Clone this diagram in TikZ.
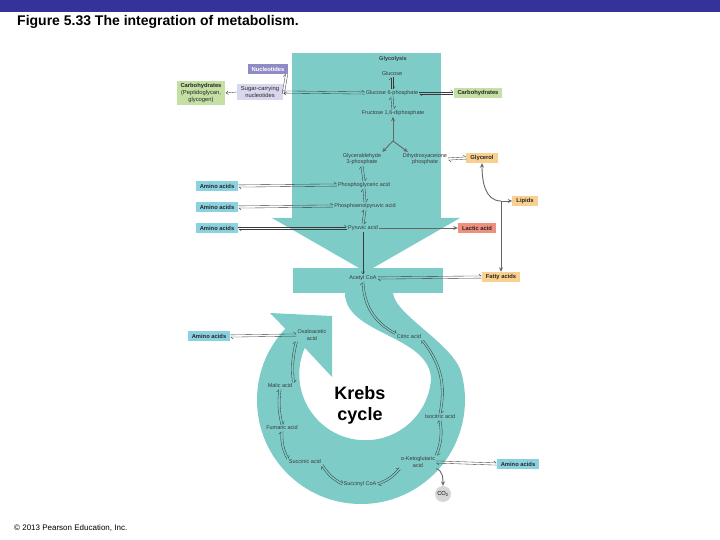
\documentclass[tikz,border=0pt]{standalone}
\usepackage{fontspec}
\setmainfont{Liberation Sans}
\usetikzlibrary{arrows.meta,calc}
\definecolor{cyc}{HTML}{7ECCC8}
\definecolor{topbar}{HTML}{333399}
\definecolor{aminofill}{HTML}{8BD2E0}
\definecolor{nucfill}{HTML}{8E8BC6}
\definecolor{sugfill}{HTML}{D9D7EE}
\definecolor{carbfill}{HTML}{C5E0A4}
\definecolor{lipfill}{HTML}{F9D08F}
\definecolor{lacfill}{HTML}{EF907C}
\definecolor{ink}{HTML}{3A3A3A}
\newcommand{\eqgap}{1.1pt}
\newcommand{\eqpair}[3][0]{%
  \draw[eqa] ($(#2)!\eqgap!90:(#3)$) to[bend left=#1] ($(#3)!\eqgap!-90:(#2)$);
  \draw[eqa] ($(#3)!\eqgap!90:(#2)$) to[bend right=#1] ($(#2)!\eqgap!-90:(#3)$);}
\tikzset{
  lbl/.style={font=\fontsize{5.5}{6.6}\selectfont,text=ink,inner sep=1pt,align=center},
  mbox/.style={font=\fontsize{5.8}{6.8}\selectfont\bfseries,text=black!85,inner xsep=4pt,inner ysep=2pt,minimum height=10pt,align=center},
  aminob/.style={mbox,fill=aminofill},
  nucb/.style={mbox,fill=nucfill,text=white},
  sugb/.style={mbox,fill=sugfill,font=\fontsize{5.8}{6.8}\selectfont},
  carbb/.style={mbox,fill=carbfill},
  lipb/.style={mbox,fill=lipfill},
  lacb/.style={mbox,fill=lacfill},
  co2b/.style={circle,fill=black!16,inner sep=0pt,minimum size=16pt,font=\fontsize{5.8}{6.8}\selectfont},
  eqa/.style={-{Straight Barb[left,length=2.4pt,width=4pt]},line width=0.35pt,draw=ink},
  onearr/.style={-{Straight Barb[length=2.4pt,width=3.6pt]},line width=0.35pt,draw=ink},
  garr/.style={-{Stealth[length=4.5pt,width=4pt]},line width=0.9pt,draw=black!60}
}
\begin{document}
\begin{tikzpicture}[x=1pt,y=-1pt]
  \useasboundingbox (0,0) rectangle (720,540);
  \fill[topbar] (0,0) rectangle (720,12);
  \node[anchor=base west,inner sep=0pt,font=\fontsize{14}{16}\selectfont\bfseries] (title) at (17,26) {Figure 5.33 The integration of metabolism.};
  \node[anchor=base west,inner sep=0pt,font=\fontsize{8}{9}\selectfont] (copy) at (14,530) {\textcopyright{} 2013 Pearson Education, Inc.};

  \fill[cyc] (292,53) rectangle (441,218);
  \fill[cyc] (272,218) -- (460,218) -- (366,272) -- cycle;
  \fill[cyc] (293,268) rectangle (443,293);
  \fill[cyc] (345,293) .. controls (345,335) and (431,335) .. (431,380)
    arc[start angle=5,end angle=203.6,radius=66]
    -- (332,377) -- (332,316) -- (270,313) -- (285.3,328.7)
    arc[start angle=223.3,end angle=-15,radius=104]
    .. controls (453.7,344) and (395,315) .. (393,293) -- cycle;

  \node[lbl,font=\fontsize{5.5}{6.6}\selectfont\bfseries] (glyc) at (393,59) {Glycolysis};
  \node[lbl] (glc) at (392,74) {Glucose};
  \node[lbl] (g6p) at (392,93) {Glucose 6-phosphate};
  \node[lbl] (f16) at (393,113) {Fructose 1,6-diphosphate};
  \node[lbl] (g3p) at (362,159) {Glyceraldehyde\\3-phosphate};
  \node[lbl] (dhap) at (425,159) {Dihydroxyacetone\\phosphate};
  \node[lbl] (pga) at (364,185) {Phosphoglyceric acid};
  \node[lbl] (pep) at (365,206) {Phosphoenolpyruvic acid};
  \node[lbl] (pyr) at (363,228) {Pyruvic acid};
  \node[lbl] (acoa) at (363,278) {Acetyl CoA};
  \node[lbl] (cit) at (409,337) {Citric acid};
  \node[lbl] (iso) at (440,417) {Isocitric acid};
  \node[lbl] (akg) at (418,462) {α-Ketoglutaric\\acid};
  \node[lbl] (sca) at (360,484) {Succinyl CoA};
  \node[lbl] (suc) at (305,462) {Succinic acid};
  \node[lbl] (fum) at (282,428) {Fumaric acid};
  \node[lbl] (mal) at (280,386) {Malic acid};
  \node[lbl] (oxa) at (312,335) {Oxaloacetic\\acid};
  \node[align=center,font=\fontsize{18}{21}\selectfont\bfseries] (krebs) at (360,405) {Krebs\\cycle};

  \node[nucb] (nuc) at (268,69) {Nucleotides};
  \node[sugb] (sug) at (260,92) {Sugar-carrying\\nucleotides};
  \node[carbb] (carbl) at (201,93) {Carbohydrates\\{\mdseries (Peptidoglycan,}\\{\mdseries glycogen)}};
  \node[carbb] (carbr) at (478,93) {Carbohydrates};
  \node[lipb] (gly) at (482,158) {Glycerol};
  \node[lipb] (lip) at (525,201) {Lipids};
  \node[lacb] (lac) at (477,228) {Lactic acid};
  \node[lipb] (fat) at (501,277) {Fatty acids};
  \node[aminob] (aa1) at (217,186) {Amino acids};
  \node[aminob] (aa2) at (217,207) {Amino acids};
  \node[aminob] (aa3) at (217,228) {Amino acids};
  \node[aminob] (aa4) at (209,336) {Amino acids};
  \node[aminob] (aa5) at (518,464) {Amino acids};
  \node[co2b] (co2) at (443,494) {CO\textsubscript{2}};

  \eqpair{glc.south}{g6p.north}
  \eqpair{g6p.south}{f16.north}
  \coordinate (split) at (393,141);
  \draw[garr] (split) -- (f16.south);
  \draw[garr] (split) -- (g3p.north east);
  \draw[garr] (split) -- ([xshift=6pt]dhap.north west);
  \eqpair{g3p.south}{pga.north}
  \eqpair{pga.south}{pep.north}
  \eqpair{pep.south}{pyr.north}
  \draw[onearr] (pyr.south) -- (acoa.north);
  \draw[garr] (pyr.east) -- (lac.west);
  \eqpair{aa1.east}{pga.west}
  \eqpair{aa2.east}{pep.west}
  \eqpair{aa3.east}{pyr.west}
  \eqpair{sug.east}{g6p.west}
  \eqpair{[xshift=-2pt]nuc.south east}{[yshift=-2pt]sug.east}
  \draw[onearr] (sug.west) -- (carbl.east);
  \eqpair{g6p.east}{carbr.west}
  \eqpair{dhap.east}{gly.west}
  \coordinate (lj) at (501,201);
  \draw[garr] (lj) to[out=180,in=-90] (gly.south);
  \draw[garr] (lj) -- (lip.west);
  \draw[garr] (lj) -- (fat.north);
  \eqpair{acoa.east}{fat.west}

  \eqpair[-30]{acoa.south}{cit.north west}
  \eqpair[25]{cit.south east}{iso.north}
  \eqpair[15]{iso.south}{akg.north east}
  \eqpair[15]{akg.south west}{sca.east}
  \eqpair[15]{sca.west}{suc.south east}
  \eqpair[15]{suc.north west}{fum.south}
  \eqpair[10]{fum.north}{mal.south}
  \eqpair[10]{mal.north east}{oxa.south west}
  \eqpair{aa4.east}{oxa.west}
  \eqpair{akg.east}{aa5.west}
  \draw[garr] (akg.south east) to[out=-20,in=90] (co2.north);
\end{tikzpicture}
\end{document}
